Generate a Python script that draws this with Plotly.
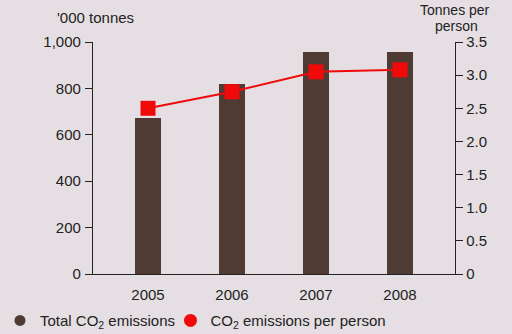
import plotly.graph_objects as go

# Annual CO2 emissions, 2005-2008
years = ["2005", "2006", "2007", "2008"]
total_emissions = [672, 818, 956, 956]          # '000 tonnes
per_person = [2.50, 2.75, 3.05, 3.08]           # tonnes per person

left_ticks = [0, 200, 400, 600, 800, 1000]
left_ticktext = ["0", "200", "400", "600", "800", "1,000"]
right_ticks = [0, 0.5, 1.0, 1.5, 2.0, 2.5, 3.0, 3.5]
right_ticktext = ["0", "0.5", "1.0", "1.5", "2.0", "2.5", "3.0", "3.5"]

BG = "#E5DFE3"
BROWN = "#4F3B34"
RED = "#F00A0A"
INK = "#222222"
FONT = "Liberation Sans, Arial, sans-serif"
FS = 15

fig = go.Figure()

fig.add_trace(go.Bar(
    x=years, y=total_emissions, width=0.32,
    marker=dict(color=BROWN, line=dict(width=0)),
    showlegend=False, yaxis="y",
))
fig.add_trace(go.Scatter(
    x=years, y=per_person, mode="lines+markers",
    line=dict(color=RED, width=2),
    marker=dict(symbol="square", size=15, color=RED),
    showlegend=False, yaxis="y2",
))

# Legend entries drawn as round swatches, one legend box each
fig.add_trace(go.Scatter(
    x=[None], y=[None], mode="markers",
    marker=dict(symbol="circle", size=11, color=BROWN),
    name="Total CO<sub>2</sub> emissions", legend="legend",
))
fig.add_trace(go.Scatter(
    x=[None], y=[None], mode="markers",
    marker=dict(symbol="circle", size=13, color=RED),
    name="CO<sub>2</sub> emissions per person", legend="legend2",
))

axis_line = dict(showline=True, linecolor=INK, linewidth=1.3, mirror=False)
legend_common = dict(
    orientation="h", xref="container", yref="container",
    y=0.04, xanchor="left", yanchor="middle",
    bgcolor="rgba(0,0,0,0)", font=dict(size=FS), itemwidth=30,
)

fig.update_layout(
    width=512, height=334,
    margin=dict(l=93, r=57, t=42, b=60, autoexpand=False),
    paper_bgcolor=BG, plot_bgcolor=BG,
    font=dict(family=FONT, size=FS, color=INK),
    xaxis=dict(
        type="category", range=[-0.655, 3.655],
        showgrid=False, zeroline=False, ticks="",
        ticklabelstandoff=7, **axis_line,
    ),
    yaxis=dict(
        range=[0, 1000], tickvals=left_ticks, ticktext=left_ticktext,
        ticks="outside", ticklen=7, tickwidth=1.3, tickcolor=INK,
        ticklabelstandoff=1,
        showgrid=False, zeroline=False, **axis_line,
    ),
    yaxis2=dict(
        range=[0, 3.5], tickvals=right_ticks, ticktext=right_ticktext,
        overlaying="y", side="right",
        ticks="outside", ticklen=7, tickwidth=1.3, tickcolor=INK,
        showgrid=False, zeroline=False, **axis_line,
    ),
    legend=dict(x=0.0, **legend_common),
    legend2=dict(x=0.333, **legend_common),
    annotations=[
        dict(text="'000 tonnes", xref="paper", yref="paper",
             x=-0.105, y=1.0, yshift=25, xanchor="left", yanchor="middle",
             showarrow=False, font=dict(size=FS)),
        dict(text="Tonnes per", xref="paper", yref="paper",
             x=1.0, y=1.0, yshift=32, xanchor="center", yanchor="middle",
             showarrow=False, font=dict(size=14)),
        dict(text="person", xref="paper", yref="paper",
             x=1.003, y=1.0, yshift=16, xanchor="center", yanchor="middle",
             showarrow=False, font=dict(size=14)),
    ],
    bargap=0,
)

fig.write_html("out.html")
